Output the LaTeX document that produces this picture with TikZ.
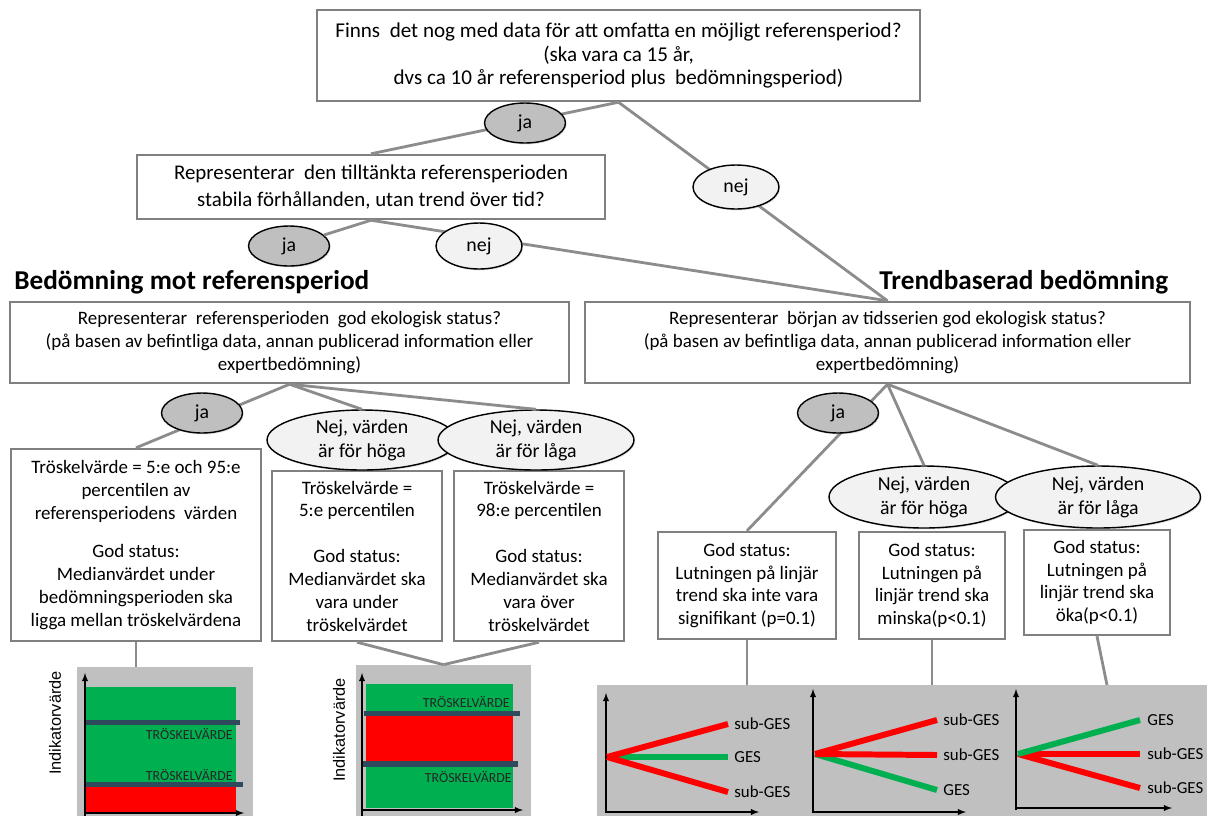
\documentclass[tikz,border=0pt]{standalone}
\usepackage{fontspec}
\setmainfont{Carlito}
\newfontfamily\arialfont{Liberation Sans}
\usepackage{xcolor}
\usepackage{tikz}
\usetikzlibrary{shapes.geometric,shadows}

\definecolor{boxgray}{HTML}{808080}
\definecolor{lingray}{HTML}{8C8C8C}
\definecolor{jagray}{HTML}{BFBFBF}
\definecolor{nejgray}{HTML}{F2F2F2}
\definecolor{chartbg}{HTML}{C0C0C0}
\definecolor{okgreen}{HTML}{00B050}
\definecolor{badred}{HTML}{FF0000}
\definecolor{barblue}{HTML}{2F4A5C}

\tikzset{
  qbox/.style={draw=boxgray, line width=1.4pt, fill=white, align=center, inner sep=0pt,
    font=\fontsize{10.8}{13}\selectfont},
  link/.style={draw=lingray, line width=1.6pt},
  jaell/.style={ellipse, draw=black, line width=0.8pt, fill=jagray, inner sep=0pt, align=center,
    minimum width=1.62cm, minimum height=0.8cm, font=\fontsize{11.3}{13.6}\selectfont,
    drop shadow={opacity=0.25, shadow xshift=0.6pt, shadow yshift=-0.8pt}},
  nejell/.style={jaell, fill=nejgray},
  head/.style={font=\fontsize{15.5}{18}\bfseries, inner sep=0pt},
  chartbox/.style={fill=chartbg, inner sep=0pt},
  axis/.style={->, >=latex, line width=0.6pt},
  tline/.style={line width=3.4pt},
  tlabel/.style={font=\fontsize{7.9}{9}\selectfont, text=black!85, inner sep=0pt},
  glabel/.style={font=\fontsize{9.6}{11}\selectfont, anchor=west, inner sep=0pt},
  ylab/.style={font=\arialfont\fontsize{9.3}{11}\selectfont, rotate=90, inner sep=0pt}
}

\begin{document}
\begin{tikzpicture}[x=0.02cm, y=-0.02cm]
\useasboundingbox (0,0) rectangle (1207,816);

\node[qbox, minimum width=12.06cm, minimum height=1.82cm, font=\fontsize{12}{13.6}\selectfont] (data) at (618.5,55.5)
  {Finns\ \ det nog med data för att omfatta en möjligt referensperiod?\\(ska vara ca 15 år,\\dvs ca 10 år referensperiod plus\ \ bedömningsperiod)};
\node[qbox, minimum width=9.36cm, minimum height=1.28cm, font=\fontsize{11.9}{15}\selectfont] (stable) at (371,187)
  {Representerar\ \ den tilltänkta referensperioden\\stabila förhållanden, utan trend över tid?};

\node[head, anchor=west] (refhead) at (14,282) {Bedömning mot referensperiod};
\node[head, anchor=west] (trendhead) at (879,282) {Trendbaserad bedömning};

\node[qbox, minimum width=11.18cm, minimum height=1.62cm] (refgood) at (289.5,342.5)
  {Representerar\ \ referensperioden\ \ god ekologisk status?\\(på basen av befintliga data, annan publicerad information eller\\expertbedömning)};
\node[qbox, minimum width=12.1cm, minimum height=1.62cm] (trendgood) at (887.5,342.5)
  {Representerar\ \ början av tidsserien god ekologisk status?\\(på basen av befintliga data, annan publicerad information eller\\expertbedömning)};

\node[qbox, minimum width=5cm, minimum height=3.84cm] (refja) at (136,545)
  {Tröskelvärde = 5:e och 95:e\\percentilen av\\referensperiodens\ \ värden\\[9pt]God status:\\Medianvärdet under\\bedömningsperioden ska\\ligga mellan tröskelvärdena};
\node[qbox, minimum width=3.4cm, minimum height=3.4cm] (refhog) at (357,556)
  {Tröskelvärde =\\5:e percentilen\\[13pt]God status:\\Medianvärdet ska\\vara under\\tröskelvärdet};
\node[qbox, minimum width=3.4cm, minimum height=3.4cm] (reflag) at (539,556)
  {Tröskelvärde =\\98:e percentilen\\[13pt]God status:\\Medianvärdet ska\\vara över\\tröskelvärdet};

\node[qbox, minimum width=3.56cm, minimum height=2.14cm] (trendja) at (747,585.5)
  {God status:\\Lutningen på linjär\\trend ska inte vara\\signifikant (p=0.1)};
\node[qbox, minimum width=2.92cm, minimum height=2.14cm] (trendhog) at (932,585.5)
  {God status:\\Lutningen på\\linjär trend ska\\minska(p<0.1)};
\node[qbox, minimum width=2.92cm, minimum height=2.1cm] (trendlag) at (1097,582.5)
  {God status:\\Lutningen på\\linjär trend ska\\öka(p<0.1)};

\node[chartbox, minimum width=3.52cm, minimum height=2.98cm] (chartref) at (165,741.5) {};
\node[chartbox, minimum width=3.5cm, minimum height=3.02cm] (chartinv) at (443.5,740.5) {};
\node[chartbox, minimum width=12.2cm, minimum height=2.62cm] (charttrend) at (902,750.5) {};
\coordinate (lagend) at (1107,685);

\draw[link] (data.south) -- (stable.north);
\draw[link] (data.south) -- (trendgood.north);
\draw[link] (stable.south) -- (trendgood.north);
\draw[link] (refgood.south) -- (refja.north);
\draw[link] (trendgood.south) -- (trendja.north);
\draw[link] (refja.south) -- (refja.south |- chartref.north);
\draw[link] (refhog.south) -- (chartinv.north);
\draw[link] (reflag.south) -- (chartinv.north);
\draw[link] (trendja.south) -- (trendja.south |- charttrend.north);
\draw[link] (trendhog.south) -- (trendhog.south |- charttrend.north);
\draw[link] (trendlag.south) -- (lagend);

\node[jaell] (ja1) at (525,123) {ja};
\node[nejell, minimum width=1.72cm, minimum height=0.88cm] (nej1) at (736,187) {nej};
\node[jaell] (ja2) at (289,246) {ja};
\node[nejell, minimum width=1.72cm, minimum height=0.92cm] (nej2) at (479,246) {nej};
\node[jaell] (ja3) at (202,413) {ja};
\node[nejell, minimum width=3.8cm, minimum height=1.2cm] (hogL) at (362,440) {Nej, värden\\är för höga};
\node[nejell, minimum width=3.92cm, minimum height=1.2cm] (lagL) at (536,440) {Nej, värden\\är för låga};
\node[jaell] (ja4) at (838,413) {ja};
\node[nejell, minimum width=3.8cm, minimum height=1.24cm] (hogR) at (924,497) {Nej, värden\\är för höga};
\node[nejell, minimum width=4.1cm, minimum height=1.24cm] (lagR) at (1098,497) {Nej, värden\\är för låga};

\draw[link] (stable.south) -- (ja2);
\draw[link] (refgood.south) -- (hogL.north);
\draw[link] (refgood.south) -- (lagL.north);
\draw[link] (trendgood.south) -- (hogR.north);
\draw[link] (trendgood.south) -- (lagR.north);

\fill[okgreen] (86,687) rectangle (236,787);
\fill[badred] (86,787) rectangle (236,812);
\fill[barblue] (85,720) rectangle (240,725);
\fill[barblue] (85,782) rectangle (243,787);
\draw[axis] (85,816) -- (85,673);
\draw[axis] (85,813) -- (244,813);
\node[tlabel, anchor=east] (refthA) at (233,734) {TRÖSKELVÄRDE};
\node[tlabel, anchor=east] (refthB) at (233,775) {TRÖSKELVÄRDE};
\node[ylab] (refyl) at (55,723) {Indikatorvärde};

\fill[okgreen] (366,684) rectangle (513,713);
\fill[badred] (366,713) rectangle (513,765);
\fill[okgreen] (366,765) rectangle (513,808);
\fill[barblue] (364,711) rectangle (520,716);
\fill[barblue] (363,761) rectangle (518,767);
\draw[axis] (362,816) -- (362,673);
\draw[axis] (362,810) -- (523,810);
\node[tlabel, anchor=east] (invthA) at (510,702) {TRÖSKELVÄRDE};
\node[tlabel, anchor=east] (invthB) at (512,777) {TRÖSKELVÄRDE};
\node[ylab] (invyl) at (339,730) {Indikatorvärde};

\draw[axis] (606,813) -- (606,693);
\draw[axis] (606,812) -- (759,812);
\draw[tline, okgreen] (607,757) -- (728,757);
\draw[tline, badred] (607,757) -- (728,724);
\draw[tline, badred] (607,757) -- (728,792);
\node[glabel] (ga1) at (734,724) {sub-GES};
\node[glabel] (ga2) at (734,757) {GES};
\node[glabel] (ga3) at (734,792) {sub-GES};

\draw[axis] (813,813) -- (813,689);
\draw[axis] (813,812) -- (966,812);
\draw[tline, okgreen] (815,754) -- (937,790);
\draw[tline, badred] (815,754) -- (937,720);
\draw[tline, badred] (815,754) -- (937,755);
\node[glabel] (gb1) at (943,720) {sub-GES};
\node[glabel] (gb2) at (943,755) {sub-GES};
\node[glabel] (gb3) at (943,790) {GES};

\draw[axis] (1016,810) -- (1016,689);
\draw[axis] (1016,808) -- (1172,808);
\draw[tline, badred] (1018,754) -- (1140,754);
\draw[tline, badred] (1018,754) -- (1140,788);
\draw[tline, okgreen] (1018,754) -- (1140,720);
\node[glabel] (gc1) at (1147,720) {GES};
\node[glabel] (gc2) at (1147,754) {sub-GES};
\node[glabel] (gc3) at (1147,788) {sub-GES};
\end{tikzpicture}
\end{document}
